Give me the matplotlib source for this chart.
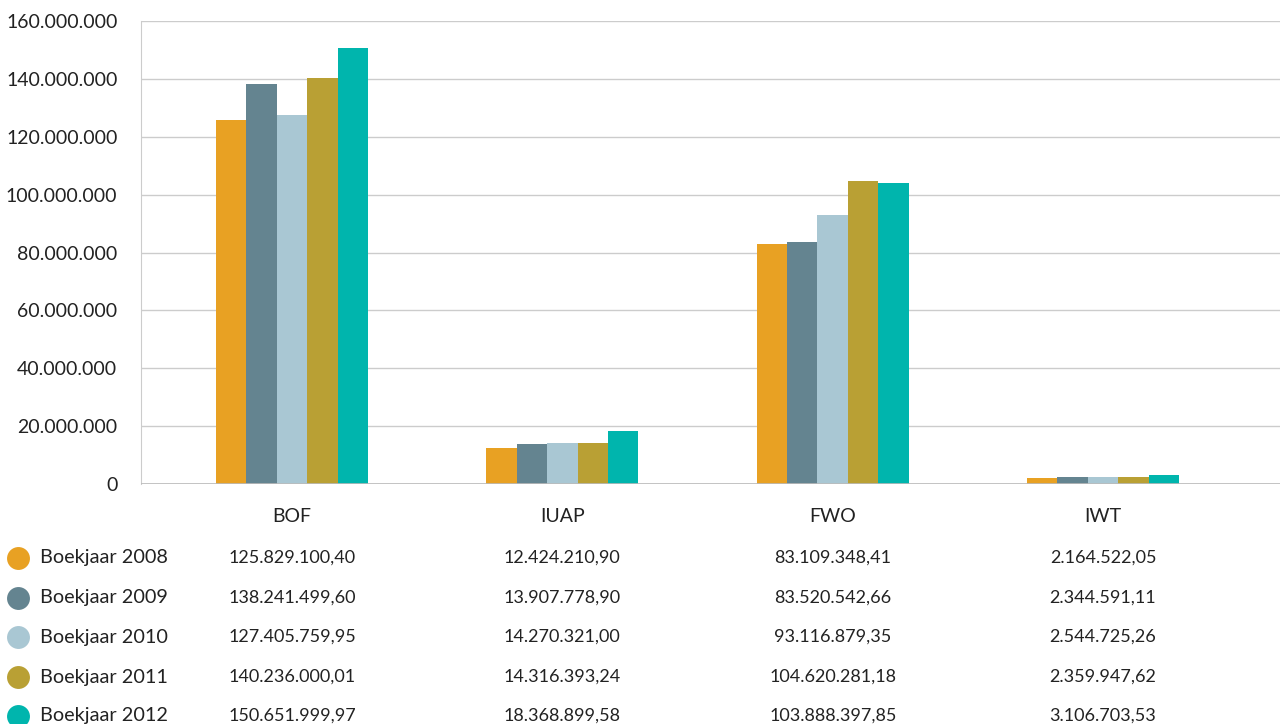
import matplotlib
matplotlib.use("Agg")
import matplotlib.pyplot as plt
from matplotlib.lines import Line2D
import numpy as np

categories = ["BOF", "IUAP", "FWO", "IWT"]
series_names = ["Boekjaar 2008", "Boekjaar 2009", "Boekjaar 2010", "Boekjaar 2011", "Boekjaar 2012"]
v2008 = [125829100.40, 12424210.90, 83109348.41, 2164522.05]
v2009 = [138241499.60, 13907778.90, 83520542.66, 2344591.11]
v2010 = [127405759.95, 14270321.00, 93116879.35, 2544725.26]
v2011 = [140236000.01, 14316393.24, 104620281.18, 2359947.62]
v2012 = [150651999.97, 18368899.58, 103888397.85, 3106703.53]
colors = ["#E8A123", "#648490", "#A9C7D3", "#B9A034", "#00B5AD"]
yticks = [0, 20000000, 40000000, 60000000, 80000000, 100000000, 120000000, 140000000, 160000000]

series = [v2008, v2009, v2010, v2011, v2012]

plt.rcParams['font.family'] = ['Lato', 'DejaVu Sans']

def nl_int(v):
    return f"{int(round(v)):,}".replace(",", ".")

def nl_dec(v):
    s = f"{v:,.2f}"
    return s.replace(",", "X").replace(".", ",").replace("X", ".")

W, H = 1280, 724
fig = plt.figure(figsize=(12.8, 7.24), dpi=100)
ax = fig.add_axes([141 / W, 1 - 484 / H, (1280 - 141) / W, (484 - 21) / H])

x = np.arange(len(categories))
bw = 0.1125
for i, (vals, c) in enumerate(zip(series, colors)):
    ax.bar(x + (i - 2) * bw, vals, width=bw, color=c, zorder=3)

ax.set_ylim(0, 160000000)
ax.set_xlim(-0.5586, 3.6547)
ax.set_yticks(yticks)
ax.set_yticklabels([nl_int(t) for t in yticks], fontsize=14, color="#222222")
ax.tick_params(axis='y', length=0, pad=17)
ax.grid(axis='y', color="#CCCCCC", linewidth=1, zorder=0)
for s in ["top", "right", "bottom"]:
    ax.spines[s].set_visible(False)
ax.spines["left"].set_color("#CCCCCC")
ax.axhline(0, color="#BBBBBB", linewidth=1.2, zorder=4)
ax.set_xticks(x)
ax.set_xticklabels(categories, fontsize=14, color="#222222")
ax.tick_params(axis='x', length=0, pad=17)

# Legend / data table
row_y = [558, 598, 637, 677, 716]
col_px = [292, 562, 833, 1103]
for i, (name, vals, c) in enumerate(zip(series_names, series, colors)):
    yf = 1 - row_y[i] / H
    fig.add_artist(Line2D([18 / W], [yf], marker='o', markersize=16.5, color=c,
                          markeredgewidth=0, transform=fig.transFigure))
    fig.text(40 / W, yf, name, fontsize=14.3, color="#222222", va='center', ha='left')
    for j, v in enumerate(vals):
        fig.text(col_px[j] / W, yf, nl_dec(v), fontsize=13, color="#222222",
                 va='center', ha='center')

fig.savefig("out.png", dpi=100)
